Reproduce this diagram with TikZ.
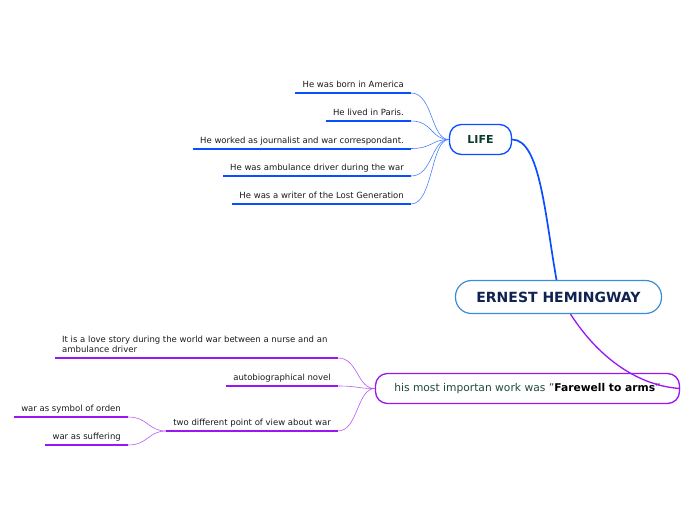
\documentclass[tikz,border=0pt]{standalone}
\usepackage{fontspec}
\setmainfont{DejaVu Sans}
\definecolor{lblue}{HTML}{0A4FFF}
\definecolor{cblue}{HTML}{4A80FF}
\definecolor{cborder}{HTML}{3A8CD6}
\definecolor{navy}{HTML}{0F2250}
\definecolor{dgreen}{HTML}{0B3B2B}
\definecolor{wgreen}{HTML}{1E4A3C}
\definecolor{purp}{HTML}{9A16F2}
\definecolor{cpurp}{HTML}{B65CF5}
\definecolor{txt}{HTML}{1A1A1A}
\tikzset{
  leaf/.style={inner xsep=7pt, inner ysep=5pt, text depth=0pt, font=\fontsize{8.5}{10}\selectfont, text=txt},
  blueline/.style={draw=lblue, line width=2pt},
  purpline/.style={draw=purp, line width=2pt},
  bconn/.style={draw=cblue, line width=0.6pt},
  pconn/.style={draw=cpurp, line width=0.6pt},
}
\begin{document}
\begin{tikzpicture}[x=1pt,y=-1pt]
\useasboundingbox (0,0) rectangle (696,520);
% main nodes
\node[draw=cborder, line width=1.2pt, rounded corners=16pt, fill=white, minimum width=206pt, minimum height=33pt, font=\fontsize{14}{16}\selectfont\bfseries, text=navy] (center) at (558.5,297) {ERNEST HEMINGWAY};
\node[draw=lblue, line width=1.3pt, rounded corners=12pt, fill=white, minimum width=62pt, minimum height=30pt, font=\fontsize{11}{13}\selectfont\bfseries, text=dgreen] (life) at (480.5,139.5) {LIFE};
\node[draw=purp, line width=1.3pt, rounded corners=12pt, fill=white, minimum width=304pt, minimum height=30pt, font=\fontsize{10.7}{12}\selectfont, text=wgreen] (work) at (527.5,388.5) {his most importan work was "\textcolor{black}{\textbf{Farewell to arms}}"};
% main connectors
\draw[draw=lblue, line width=1.7pt] (center.north) ++(-2,0) coordinate (cN) .. controls (545,215) and (540,139.5) .. (life.east);
\draw[draw=purp, line width=1.3pt] (center.south) ++(12,0) coordinate (cS) .. controls (600,360) and (640,386) .. (work.east);
% LIFE leaves
\node[leaf, anchor=south east] (l1) at (411,93) {He was born in America};
\node[leaf, anchor=south east] (l2) at (411,121) {He lived in Paris.};
\node[leaf, anchor=south east] (l3) at (411,148.5) {He worked as journalist and war correspondant.};
\node[leaf, anchor=south east] (l4) at (411,176) {He was ambulance driver during the war};
\node[leaf, anchor=south east] (l5) at (411,204) {He was a writer of the Lost Generation};
\foreach \n in {l1,l2,l3,l4,l5}{
  \draw[blueline] (\n.south west) -- (\n.south east);
  \draw[bconn] (\n.south east) .. controls +(22,0) and +(-18,0) .. (life.west);
}
% work leaves
\node[leaf, anchor=south west, align=left] (w1) at (55,358) {It is a love story during the world war between a nurse and an\\ambulance driver};
\coordinate (w1end) at (338,358);
\node[leaf, anchor=south east] (w2) at (338,386) {autobiographical novel};
\node[leaf, anchor=south east] (w3) at (338,431) {two different point of view about war};
\draw[purpline] (w1.south west) -- (w1end);
\draw[pconn] (w1end) .. controls +(20,0) and +(-18,0) .. (work.west);
\foreach \n in {w2,w3}{
  \draw[purpline] (\n.south west) -- (\n.south east);
  \draw[pconn] (\n.south east) .. controls +(20,0) and +(-18,0) .. (work.west);
}
% sub leaves
\node[leaf, anchor=south east] (s1) at (128,417) {war as symbol of orden};
\node[leaf, anchor=south east] (s2) at (128,445) {war as suffering};
\foreach \n in {s1,s2}{
  \draw[purpline] (\n.south west) -- (\n.south east);
  \draw[pconn] (\n.south east) .. controls +(20,0) and +(-18,0) .. (w3.south west);
}
\end{tikzpicture}
\end{document}
